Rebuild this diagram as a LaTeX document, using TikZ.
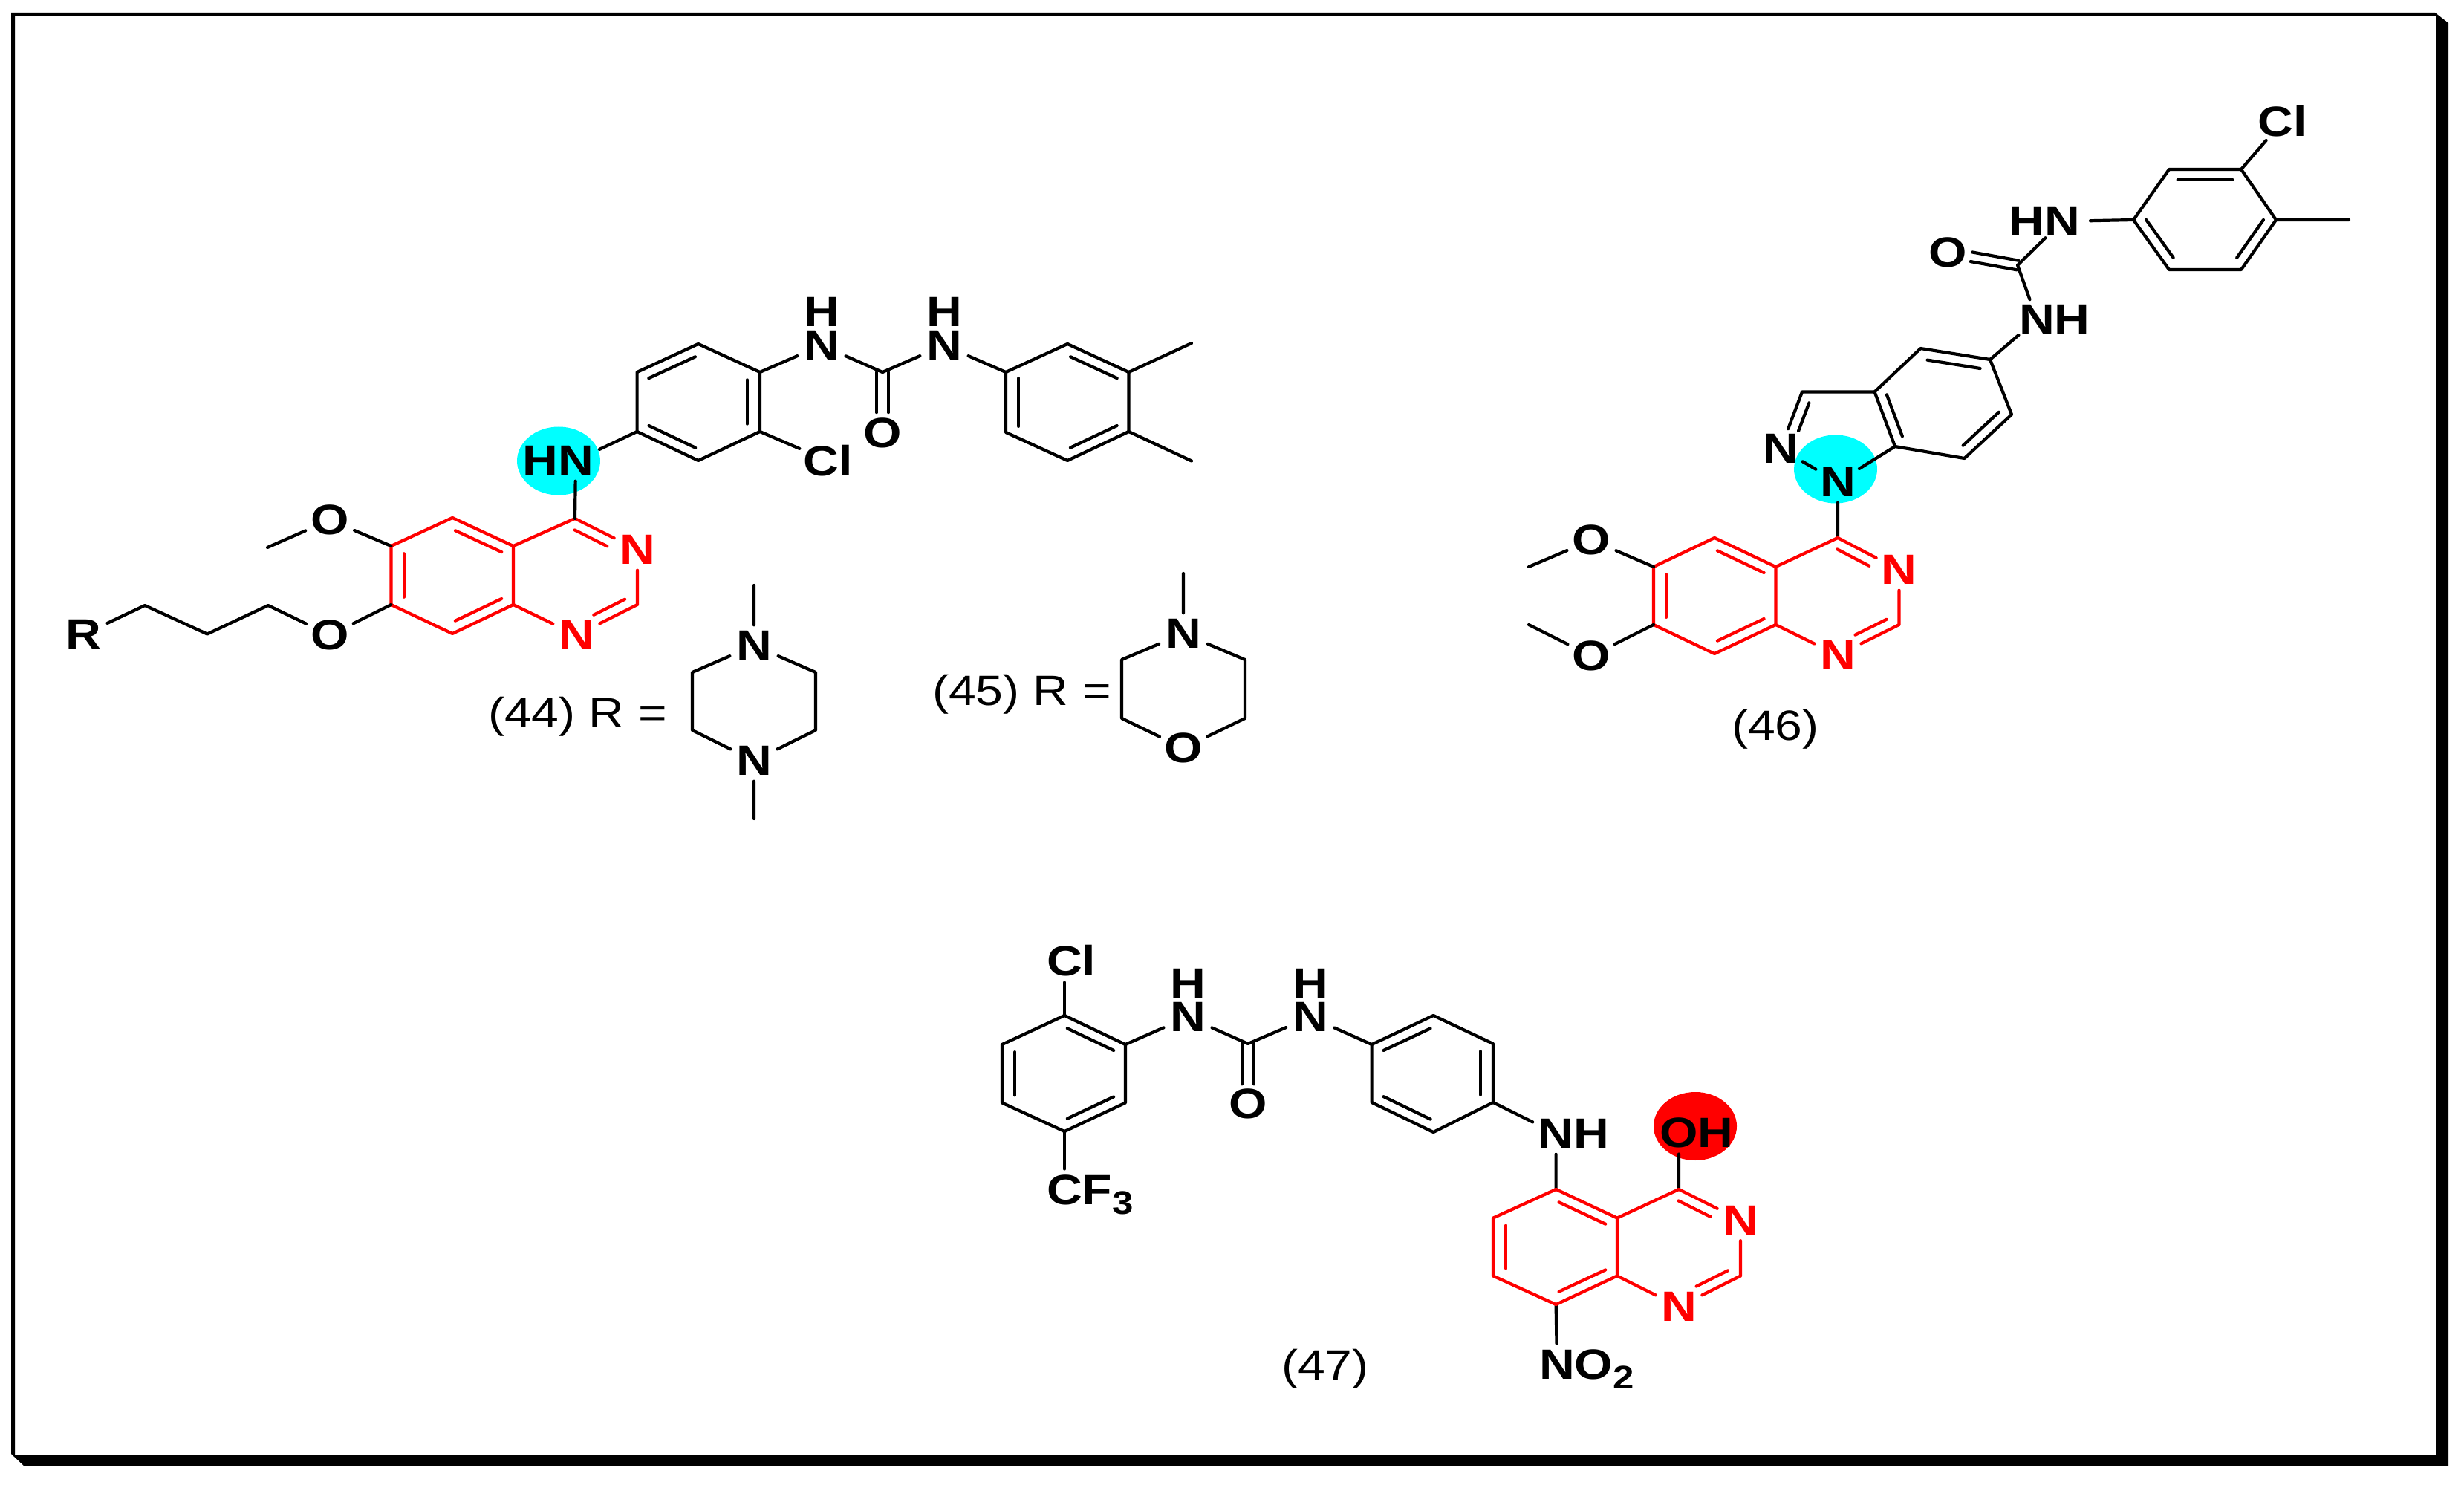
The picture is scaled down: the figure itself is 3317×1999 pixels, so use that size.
\documentclass[tikz,border=0pt]{standalone}
\usepackage{fontspec}
\usetikzlibrary{calc,shapes.geometric}
\newfontfamily\atomfont[FakeStretch=1.16]{Liberation Sans}
\definecolor{halocyan}{RGB}{0,255,255}
\definecolor{purered}{RGB}{255,0,0}
\newcommand\subs[1]{\smash{\raisebox{-3.25pt}{\fontsize{11}{11}\selectfont #1}}}
\newcommand\hN{\smash{\rlap{\raisebox{11.3pt}{H}}}N}
\def\Dp{3.5pt}
\def\Dv{4.3pt}
\newcommand\inb[6]{\draw[#1] ($(#2)!#5!(#3)!#4!90:(#3)$) -- ($(#2)!#6!(#3)!#4!90:(#3)$);}
\tikzset{
  atom/.style={ellipse,inner sep=0pt,outer sep=0pt,minimum width=19pt,minimum height=13.5pt,
    font=\atomfont\bfseries\fontsize{14.25}{14.5}\selectfont},
  atomr/.style={atom,text=purered},
  caption/.style={inner sep=0pt,outer sep=0pt,font=\atomfont\fontsize{14.25}{14.5}\selectfont},
  halo/.style={ellipse,inner sep=0pt,minimum width=28pt,minimum height=23pt},
  bk/.style={black,line width=1.05pt,line cap=round,line join=round},
  rd/.style={purered,line width=1.05pt,line cap=round,line join=round}
}
\begin{document}
\begin{tikzpicture}[x=0.25pt,y=-0.25pt]
\useasboundingbox (0,0) rectangle (3317,1999);
\fill[white] (0,0) rectangle (3317,1999);
\fill[black,even odd rule] (15,17) -- (3278,17) -- (3296,31) -- (3296,1973) -- (32,1973) -- (15,1957) -- cycle
  (20,21) rectangle (3279,1959);
% ---------- halos
\node[halo,fill=halocyan] (halo44) at (752,620.5) {};
\node[halo,fill=halocyan] (halo46) at (2471,631.5) {};
\node[halo,fill=purered] (halo47) at (2282,1516) {};
% ---------- compounds 44/45
\coordinate (a4) at (774,698);
\node[atomr] (an3) at (858,740) {N};
\coordinate (a2) at (858,814);
\node[atomr] (an1) at (776,855) {N};
\coordinate (a8a) at (691,814);
\coordinate (a4a) at (691,735);
\coordinate (a5) at (609,697);
\coordinate (a6) at (526.5,735);
\coordinate (a7) at (526.5,814);
\coordinate (a8) at (609,853);
\node[atom] (ao6) at (444,700) {O};
\coordinate (ame) at (360,737);
\node[atom] (ao7) at (444,855) {O};
\coordinate (c1) at (361,815);
\coordinate (c2) at (279,853.5);
\coordinate (c3) at (195,815);
\node[atom] (ar) at (112.6,854) {R};
\node[atom] (ahn) at (775,620) {\llap{H}N};
\coordinate (r1) at (857.6,581);
\coordinate (r2) at (857.6,501);
\coordinate (r3) at (940,463);
\coordinate (r4) at (1023,501);
\coordinate (r5) at (1023,581);
\coordinate (r6) at (940,620);
\node[atom] (acl) at (1115,620.5) {Cl};
\node[atom] (anh1) at (1106,465) {\hN};
\coordinate (u1) at (1188,501);
\node[atom] (uo1) at (1188,583) {O};
\node[atom] (anh2) at (1271,465) {\hN};
\coordinate (b1) at (1354,501);
\coordinate (b2) at (1437,463);
\coordinate (b3) at (1519.5,501);
\coordinate (b4) at (1519.5,581);
\coordinate (b5) at (1437,620);
\coordinate (b6) at (1354,582);
\coordinate (bm1) at (1604,462);
\coordinate (bm2) at (1604,620.5);
\draw[rd] (a4)--(an3) (an3)--(a2) (a2)--(an1) (an1)--(a8a);
\draw[rd] (a8a)--(a4a)--(a4) (a4a)--(a5)--(a6)--(a7)--(a8)--(a8a);
\inb{rd}{a4}{an3}{-\Dp}{.07}{.59}
\inb{rd}{a2}{an1}{-\Dp}{.13}{.64}
\inb{rd}{a4a}{a5}{\Dp}{.12}{.88}
\inb{rd}{a6}{a7}{\Dv}{.13}{.87}
\inb{rd}{a8}{a8a}{\Dp}{.12}{.88}
\draw[bk] (a6)--(ao6) (ao6)--(ame) (a7)--(ao7) (ao7)--(c1)--(c2)--(c3)--(ar);
\draw[bk] (a4)--(ahn) (ahn)--(r1);
\draw[bk] (r1)--(r2)--(r3)--(r4)--(r5)--(r6)--cycle;
\inb{bk}{r2}{r3}{-\Dp}{.12}{.88}
\inb{bk}{r4}{r5}{-\Dv}{.13}{.87}
\inb{bk}{r6}{r1}{-\Dp}{.12}{.88}
\draw[bk] (r5)--(acl) (r4)--(anh1) (anh1)--(u1) (u1)--(anh2) (anh2)--(b1);
\inb{bk}{u1}{uo1}{2pt}{0}{.66}
\inb{bk}{u1}{uo1}{-2pt}{0}{.66}
\draw[bk] (b1)--(b2)--(b3)--(b4)--(b5)--(b6)--cycle;
\inb{bk}{b2}{b3}{-\Dp}{.12}{.88}
\inb{bk}{b4}{b5}{-\Dp}{.12}{.88}
\inb{bk}{b6}{b1}{-\Dv}{.1}{.9}
\draw[bk] (b3)--(bm1) (b4)--(bm2);
% piperazine
\coordinate (pm1) at (1015,788);
\node[atom] (pn1) at (1015,869) {N};
\coordinate (pl1) at (932,905);
\coordinate (pl2) at (932,983);
\node[atom] (pn2) at (1015,1024) {N};
\coordinate (pr1) at (1098,905);
\coordinate (pr2) at (1098,983);
\coordinate (pm2) at (1015,1102);
\draw[bk] (pm1)--(pn1) (pn1)--(pl1)--(pl2)--(pn2) (pn2)--(pr2)--(pr1)--(pn1) (pn2)--(pm2);
\node[caption,anchor=base west] (cap44) at (657,979) {(44) R =};
% morpholine
\coordinate (mm) at (1593,772);
\node[atom] (mn) at (1593,853) {N};
\coordinate (ml1) at (1510,888);
\coordinate (ml2) at (1510,967);
\node[atom] (mo) at (1593,1007) {O};
\coordinate (mr1) at (1676,888);
\coordinate (mr2) at (1676,967);
\draw[bk] (mm)--(mn) (mn)--(ml1)--(ml2)--(mo) (mo)--(mr2)--(mr1)--(mn);
\node[caption,anchor=base west] (cap45) at (1255,949) {(45) R =};
% ---------- compound 46
\node[atom] (dcl) at (3073,163) {Cl};
\coordinate (d1) at (2872,296);
\coordinate (d2) at (2920,228);
\coordinate (d3) at (3017,228);
\coordinate (d4) at (3064,296);
\coordinate (d5) at (3017,363);
\coordinate (d6) at (2920,363);
\coordinate (dm) at (3162,296);
\node[atom] (dhn) at (2776,298) {\llap{H}N};
\coordinate (du) at (2716,357);
\node[atom] (duo) at (2622,340) {O};
\node[atom] (dnh) at (2742,430) {N\rlap{H}};
\coordinate (e1) at (2679,484);
\coordinate (e2) at (2585.5,469);
\coordinate (e3) at (2523.5,527.5);
\coordinate (e4) at (2551,601);
\coordinate (e5) at (2644.5,617);
\coordinate (e6) at (2708,558);
\coordinate (p3) at (2426,527.5);
\node[atom] (pn) at (2397,604) {N};
\node[atom] (pna) at (2474,649) {N};
\coordinate (q4) at (2474,724);
\node[atomr] (qn3) at (2556.5,767) {N};
\coordinate (q2) at (2556.5,841);
\node[atomr] (qn1) at (2474,882) {N};
\coordinate (q8a) at (2390.4,841);
\coordinate (q4a) at (2390.4,763);
\coordinate (q5) at (2308,724);
\coordinate (q6) at (2226,763);
\coordinate (q7) at (2226,841);
\coordinate (q8) at (2308,880);
\node[atom] (qo6) at (2142.5,727) {O};
\coordinate (qm6) at (2058,763);
\node[atom] (qo7) at (2142,883) {O};
\coordinate (qm7) at (2058,841);
\draw[bk] (dcl)--(d3);
\draw[bk] (d1)--(d2)--(d3)--(d4)--(d5)--(d6)--cycle;
\inb{bk}{d2}{d3}{-\Dp}{.12}{.88}
\inb{bk}{d4}{d5}{-\Dp}{.12}{.88}
\inb{bk}{d6}{d1}{-\Dp}{.12}{.88}
\draw[bk] (d4)--(dm) (dhn)--(d1) (dhn)--(du) (du)--(dnh) (dnh)--(e1);
\inb{bk}{du}{duo}{1.6pt}{0}{.66}
\inb{bk}{du}{duo}{-1.6pt}{0}{.66}
\draw[bk] (e1)--(e2)--(e3)--(e4)--(e5)--(e6)--cycle;
\inb{bk}{e1}{e2}{\Dp}{.12}{.88}
\inb{bk}{e3}{e4}{\Dp}{.12}{.88}
\inb{bk}{e5}{e6}{\Dp}{.12}{.88}
\draw[bk] (e3)--(p3) (p3)--(pn) (pn)--(pna) (pna)--(e4) (pna)--(q4);
\inb{bk}{p3}{pn}{\Dp}{.13}{.62}
\draw[rd] (q4)--(qn3) (qn3)--(q2) (q2)--(qn1) (qn1)--(q8a);
\draw[rd] (q8a)--(q4a)--(q4) (q4a)--(q5)--(q6)--(q7)--(q8)--(q8a);
\inb{rd}{q4}{qn3}{-\Dp}{.07}{.59}
\inb{rd}{q2}{qn1}{-\Dp}{.13}{.64}
\inb{rd}{q4a}{q5}{\Dp}{.12}{.88}
\inb{rd}{q6}{q7}{\Dv}{.13}{.87}
\inb{rd}{q8}{q8a}{\Dp}{.12}{.88}
\draw[bk] (q6)--(qo6) (qo6)--(qm6) (q7)--(qo7) (qo7)--(qm7);
\node[caption,anchor=base west] (cap46) at (2331,996) {(46)};
% ---------- compound 47
\node[atom] (scl) at (1433,1293) {C\rlap{l}};
\coordinate (s1) at (1433,1367);
\coordinate (s2) at (1515,1406);
\coordinate (s3) at (1515,1484.5);
\coordinate (s4) at (1433,1523);
\coordinate (s5) at (1349,1484.5);
\coordinate (s6) at (1349,1406);
\node[atom] (scf) at (1433,1602) {C\rlap{F\subs{3}}};
\node[atom] (vn1) at (1599,1369) {\hN};
\coordinate (v) at (1680,1405);
\node[atom] (vo) at (1680,1486) {O};
\node[atom] (vn2) at (1764,1369) {\hN};
\coordinate (t1) at (1846.6,1406);
\coordinate (t2) at (1929.5,1367);
\coordinate (t3) at (2010,1405);
\coordinate (t4) at (2010,1484);
\coordinate (t5) at (1929.5,1524);
\coordinate (t6) at (1846.6,1484);
\node[atom] (nh3) at (2094.6,1526) {N\rlap{H}};
\node[atom] (oh) at (2260,1525) {O\rlap{H}};
\coordinate (k4) at (2260,1601);
\node[atomr] (kn3) at (2343,1642.5) {N};
\coordinate (k2) at (2343,1717.5);
\node[atomr] (kn1) at (2260,1759) {N};
\coordinate (k8a) at (2177,1717.5);
\coordinate (k4a) at (2177,1639.6);
\coordinate (k5) at (2094.6,1601);
\coordinate (k6) at (2010,1639.6);
\coordinate (k7) at (2010,1717.5);
\coordinate (k8) at (2094.6,1756);
\node[atom] (no2) at (2096,1837) {N\rlap{O\subs{2}}};
\draw[bk] (scl)--(s1) (s4)--(scf);
\draw[bk] (s1)--(s2)--(s3)--(s4)--(s5)--(s6)--cycle;
\inb{bk}{s1}{s2}{-\Dp}{.12}{.88}
\inb{bk}{s3}{s4}{-\Dp}{.12}{.88}
\inb{bk}{s5}{s6}{-\Dv}{.13}{.87}
\draw[bk] (s2)--(vn1) (vn1)--(v) (v)--(vn2) (vn2)--(t1);
\inb{bk}{v}{vo}{2pt}{0}{.67}
\inb{bk}{v}{vo}{-2pt}{0}{.67}
\draw[bk] (t1)--(t2)--(t3)--(t4)--(t5)--(t6)--cycle;
\inb{bk}{t1}{t2}{-\Dp}{.12}{.88}
\inb{bk}{t3}{t4}{-\Dv}{.13}{.87}
\inb{bk}{t5}{t6}{-\Dp}{.12}{.88}
\draw[bk] (t4)--(nh3) (nh3)--(k5) (oh)--(k4) (k8)--(no2);
\draw[rd] (k4)--(kn3) (kn3)--(k2) (k2)--(kn1) (kn1)--(k8a);
\draw[rd] (k8a)--(k4a)--(k4) (k4a)--(k5)--(k6)--(k7)--(k8)--(k8a);
\inb{rd}{k4}{kn3}{-\Dp}{.07}{.59}
\inb{rd}{k2}{kn1}{-\Dp}{.13}{.64}
\inb{rd}{k4a}{k5}{\Dp}{.12}{.88}
\inb{rd}{k6}{k7}{\Dv}{.13}{.87}
\inb{rd}{k8}{k8a}{\Dp}{.12}{.88}
\node[caption,anchor=base west] (cap47) at (1725,1857) {(47)};
\end{tikzpicture}
\end{document}
